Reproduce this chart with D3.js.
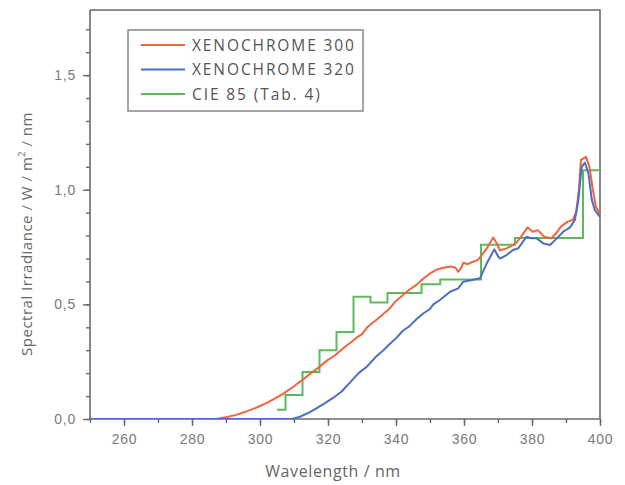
<!DOCTYPE html>
<html><head><meta charset="utf-8">
<script src="https://cdn.jsdelivr.net/npm/d3@7"></script>
<style>
body{margin:0;background:#fff;}
svg{display:block;font-family:"Open Sans","Noto Sans",sans-serif;}
</style></head>
<body>
<svg id="c" width="625" height="485"></svg>
<script>
// ---- data ----
const seriesNames = ["XENOCHROME 300", "XENOCHROME 320", "CIE 85 (Tab. 4)"];
const xTicks = [260, 280, 300, 320, 340, 360, 380, 400];
const yTicks = [0, 0.5, 1.0, 1.5];
const yTickLabels = ["0,0", "0,5", "1,0", "1,5"];

const xeno300Wl = [250,287,290,293,296,299,302,305,307,310,312,315,317,320,322,325,327,328.5,330,331.5,334,336,338,340,342,344,346,348,350,352,354,356,357.5,358.3,359.2,359.8,361,362.5,364,365,366.7,368.6,369.5,370.6,371.5,372.5,374,375.5,377,378.7,380.2,381.7,383.6,385.6,387.1,388.5,390.5,392,393,393.8,394.4,395.9,396.9,397.9,398.8,399.8,400];
const xeno300Val = [0,0,0.008,0.018,0.033,0.05,0.07,0.094,0.112,0.143,0.165,0.2,0.222,0.258,0.277,0.315,0.337,0.356,0.37,0.40,0.43,0.455,0.48,0.515,0.54,0.565,0.585,0.612,0.635,0.652,0.66,0.665,0.66,0.642,0.66,0.682,0.675,0.685,0.693,0.71,0.744,0.792,0.77,0.735,0.74,0.744,0.755,0.77,0.80,0.836,0.817,0.824,0.795,0.788,0.81,0.839,0.861,0.868,0.904,1.0,1.13,1.144,1.10,1.0,0.926,0.90,0.89];

const xeno320Wl = [250,309.5,311.8,314,316.7,319,321.6,324,326.5,329,331.4,334,336.3,338,340.2,342,344,346,348,350,351,353,355.9,358.3,359.8,362,364.7,366.7,368.9,370,370.6,372.5,374.4,376,378.4,379.9,381.4,383.3,385.3,387.3,389.2,391.2,392.6,393.6,394.6,395.6,396.6,397.6,398.5,400];
const xeno320Val = [0,0,0.01,0.025,0.047,0.068,0.093,0.12,0.16,0.2,0.228,0.27,0.3,0.325,0.355,0.385,0.405,0.435,0.46,0.48,0.5,0.52,0.555,0.57,0.599,0.605,0.614,0.679,0.74,0.71,0.70,0.715,0.737,0.745,0.795,0.788,0.788,0.766,0.759,0.788,0.817,0.836,0.868,0.95,1.10,1.118,1.07,0.955,0.911,0.882];

// step edges (value holds until next edge)
const cieWl  = [305,307.5,312.5,317.5,322.5,327.5,332.5,337.5,347.5,353,365,375,395,400];
const cieVal = [0.04,0.105,0.205,0.30,0.38,0.533,0.508,0.55,0.588,0.609,0.76,0.79,1.085,1.085];

const colors = ["#f26440", "#4a6fc4", "#5cba5c"];

// ---- layout ----
const svg = d3.select("#c");
const x = d3.scaleLinear().domain([250, 400]).range([90, 600]);
const y = d3.scaleLinear().domain([0, 1.784]).range([419, 10]);
const axisColor = "#6a6a6a";
const textColor = "#7a7a7a";

// frame (top & right)
svg.append("path")
  .attr("d", `M${x(250)},${y(1.784)}H${x(400)}V${y(0)}`)
  .attr("fill", "none").attr("stroke", axisColor).attr("stroke-width", 1.6);

// x axis
const xMinor = d3.range(250, 401, 10);
const gx = svg.append("g").attr("transform", `translate(0,${y(0)})`);
gx.append("g").call(d3.axisBottom(x).tickValues(xMinor).tickSize(4).tickFormat(""))
  .call(g => g.select(".domain").remove());
gx.append("g").call(d3.axisBottom(x).tickValues(xTicks).tickSize(7).tickPadding(8).tickFormat(d3.format("d")))
  .call(g => g.select(".domain").remove());
gx.append("line").attr("x1", x(250)).attr("x2", x(400)).attr("stroke", axisColor).attr("stroke-width", 1.6);

// y axis
const yMinor = d3.range(0, 1.75, 0.1);
const gy = svg.append("g").attr("transform", `translate(${x(250)},0)`);
gy.append("g").call(d3.axisLeft(y).tickValues(yMinor).tickSize(4).tickFormat(""))
  .call(g => g.select(".domain").remove());
gy.append("g").call(d3.axisLeft(y).tickValues(yTicks).tickSize(7).tickPadding(7)
    .tickFormat((d, i) => yTickLabels[i]))
  .call(g => g.select(".domain").remove());
gy.append("line").attr("y1", y(0)).attr("y2", y(1.784)).attr("stroke", axisColor).attr("stroke-width", 1.6);

svg.selectAll(".tick line").attr("stroke", axisColor).attr("stroke-width", 1.4);
svg.selectAll(".tick text").attr("fill", textColor).attr("font-size", 14).attr("letter-spacing", 0.8);

// series
svg.append("clipPath").attr("id", "clp").append("rect")
  .attr("x", x(250)).attr("y", y(1.784)).attr("width", x(400) - x(250)).attr("height", y(0) - y(1.784));
const plot = svg.append("g").attr("clip-path", "url(#clp)");

const line = d3.line().x(d => x(d[0])).y(d => y(d[1]));
const stepLine = d3.line().x(d => x(d[0])).y(d => y(d[1])).curve(d3.curveStepAfter);

plot.append("path").datum(d3.zip(cieWl, cieVal)).attr("d", stepLine)
  .attr("fill", "none").attr("stroke", colors[2]).attr("stroke-width", 2);
plot.append("path").datum(d3.zip(xeno300Wl, xeno300Val)).attr("d", line)
  .attr("fill", "none").attr("stroke", colors[0]).attr("stroke-width", 2).attr("stroke-linejoin", "round");
plot.append("path").datum(d3.zip(xeno320Wl, xeno320Val)).attr("d", line)
  .attr("fill", "none").attr("stroke", colors[1]).attr("stroke-width", 2).attr("stroke-linejoin", "round");

// axis titles
svg.append("text").attr("x", 333).attr("y", 477).attr("text-anchor", "middle")
  .attr("fill", "#666").attr("font-size", 16).attr("letter-spacing", 0.6).text("Wavelength / nm");
const yt = svg.append("text").attr("transform", "translate(32,234) rotate(-90)")
  .attr("text-anchor", "middle").attr("fill", "#666").attr("font-size", 15).attr("letter-spacing", 0.5);
yt.append("tspan").text("Spectral Irradiance / W / m");
yt.append("tspan").attr("font-size", 9).attr("dy", -7).text("2");
yt.append("tspan").attr("dy", 7).text(" / nm");

// legend
const lg = svg.append("g");
lg.append("rect").attr("x", 128).attr("y", 30).attr("width", 235).attr("height", 81)
  .attr("fill", "#fff").attr("stroke", "#888").attr("stroke-width", 1.5);
const rowsY = [45, 69.5, 94];
seriesNames.forEach((n, i) => {
  lg.append("line").attr("x1", 141).attr("x2", 185).attr("y1", rowsY[i]).attr("y2", rowsY[i])
    .attr("stroke", colors[i]).attr("stroke-width", 2);
  lg.append("text").attr("x", 192).attr("y", rowsY[i]).attr("dy", "0.36em")
    .attr("fill", "#555").attr("font-size", 15.5).attr("letter-spacing", 1.9).text(n);
});
</script>
</body></html>
